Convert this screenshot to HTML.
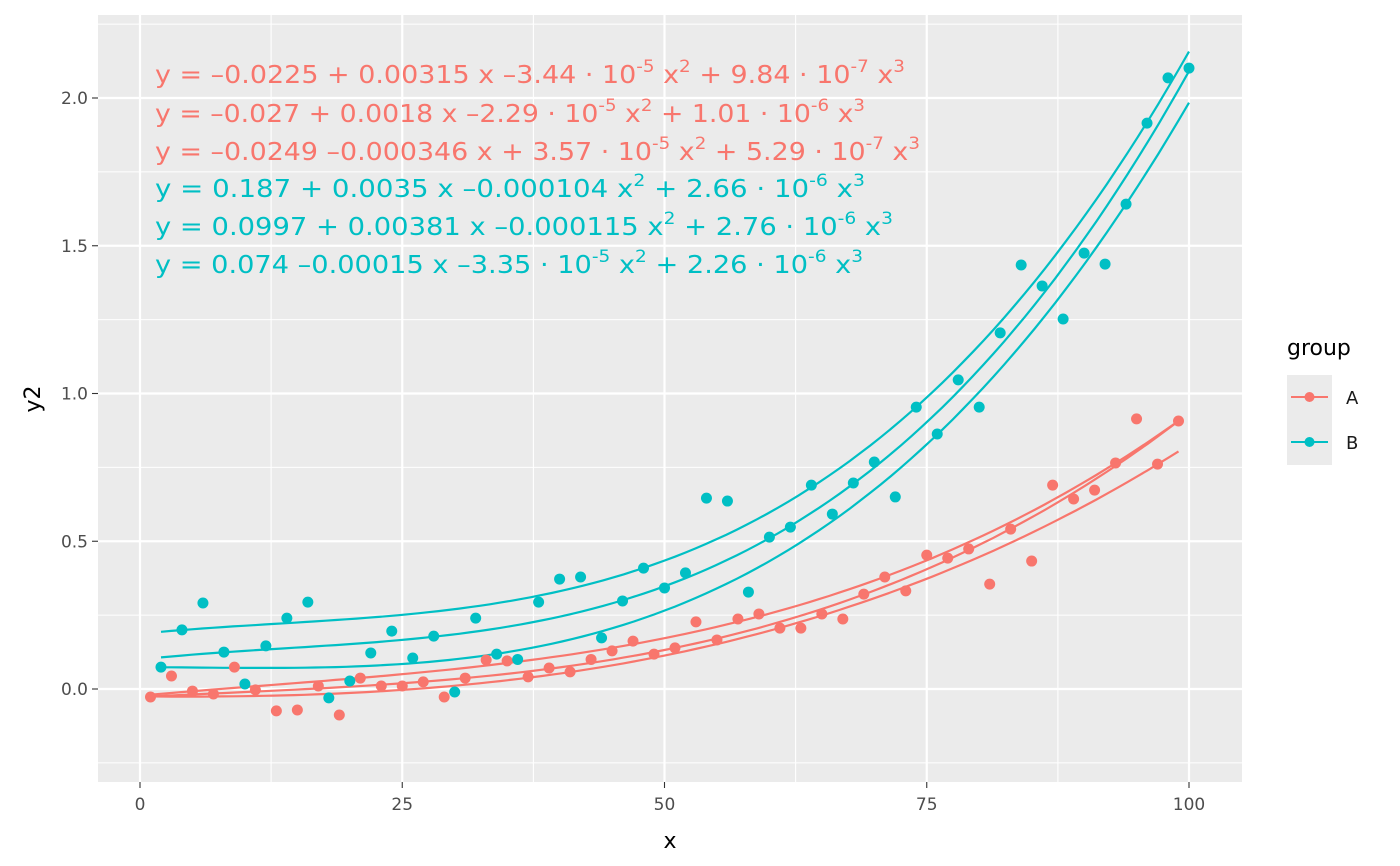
<!DOCTYPE html>
<html><head><meta charset="utf-8"><style>
body{margin:0;background:#fff;}
svg{display:block;font-family:"DejaVu Sans","Liberation Sans",sans-serif;}
</style></head><body>
<svg id="chart" width="1400" height="866">
<rect x="98" y="15" width="1144" height="767" fill="#ebebeb"/>
<g id="grid"></g><g id="curves"></g><g id="points"></g><g id="eqs"></g><g id="axes"></g>
<text x="670" y="848" font-size="22" text-anchor="middle" fill="#000">x</text>
<text transform="translate(40,399) rotate(-90)" font-size="22" text-anchor="middle" fill="#000">y2</text>
<g>
<text x="1287" y="355" font-size="22" fill="#000">group</text>
<g>
<rect x="1287" y="375" width="45" height="45" fill="#ebebeb"/>
<line x1="1291" y1="397" x2="1328" y2="397" stroke="#F8766D" stroke-width="2"/>
<circle cx="1309.5" cy="397" r="5" fill="#F8766D"/>
<text x="1346" y="404" font-size="18" fill="#1a1a1a">A</text></g>
<g>
<rect x="1287" y="420" width="45" height="45" fill="#ebebeb"/>
<line x1="1291" y1="442" x2="1328" y2="442" stroke="#00BFC4" stroke-width="2"/>
<circle cx="1309.5" cy="442" r="5" fill="#00BFC4"/>
<text x="1346" y="449" font-size="18" fill="#1a1a1a">B</text></g>
</g>
</svg>
<script>
const xA=[1,3,5,7,9,11,13,15,17,19,21,23,25,27,29,31,33,35,37,39,41,43,45,47,49,51,53,55,57,59,61,63,65,67,69,71,73,75,77,79,81,83,85,87,89,91,93,95,97,99];
const yA=[-0.027,0.044,-0.007,-0.017,0.074,-0.003,-0.074,-0.071,0.01,-0.088,0.037,0.01,0.01,0.024,-0.027,0.037,0.098,0.095,0.041,0.071,0.058,0.10,0.129,0.162,0.118,0.139,0.227,0.166,0.237,0.254,0.206,0.206,0.254,0.237,0.321,0.379,0.332,0.453,0.443,0.474,0.355,0.541,0.433,0.69,0.643,0.673,0.765,0.914,0.761,0.907];
const xB=[2,4,6,8,10,12,14,16,18,20,22,24,26,28,30,32,34,36,38,40,42,44,46,48,50,52,54,56,58,60,62,64,66,68,70,72,74,76,78,80,82,84,86,88,90,92,94,96,98,100];
const yB=[0.074,0.2,0.291,0.125,0.017,0.146,0.24,0.294,-0.03,0.027,0.122,0.196,0.105,0.179,-0.01,0.24,0.118,0.10,0.294,0.372,0.379,0.173,0.298,0.409,0.342,0.393,0.646,0.636,0.328,0.514,0.548,0.69,0.592,0.697,0.768,0.65,0.954,0.863,1.046,0.954,1.205,1.435,1.364,1.252,1.475,1.438,1.641,1.915,2.068,2.101];
const coefA=[[-0.0225,0.00315,-3.44e-5,9.84e-7],[-0.027,0.0018,-2.29e-5,1.01e-6],[-0.0249,-0.000346,3.57e-5,5.29e-7]];
const coefB=[[0.187,0.0035,-0.000104,2.66e-6],[0.0997,0.00381,-0.000115,2.76e-6],[0.074,-0.00015,-3.35e-5,2.26e-6]];
const xTicks=[0,25,50,75,100];
const yTicks=[0,0.5,1,1.5,2];
const yTickLabels=["0.0","0.5","1.0","1.5","2.0"];
const xTickLabels=["0","25","50","75","100"];
const eqLabels=[
 ["y = –0.0225 + 0.00315 x –3.44 · 10","-5"," x","2"," + 9.84 · 10","-7"," x","3"],
 ["y = –0.027 + 0.0018 x –2.29 · 10","-5"," x","2"," + 1.01 · 10","-6"," x","3"],
 ["y = –0.0249 –0.000346 x + 3.57 · 10","-5"," x","2"," + 5.29 · 10","-7"," x","3"],
 ["y = 0.187 + 0.0035 x –0.000104 x","2"," + 2.66 · 10","-6"," x","3"],
 ["y = 0.0997 + 0.00381 x –0.000115 x","2"," + 2.76 · 10","-6"," x","3"],
 ["y = 0.074 –0.00015 x –3.35 · 10","-5"," x","2"," + 2.26 · 10","-6"," x","3"]];
const eqWidths=[750,710,765,710,738,708];
const NS="http://www.w3.org/2000/svg";
const px=v=>140+(v-0)*(1189-140)/100;
const py=v=>689-v*295.5;
function mk(tag,attrs,parent){const e=document.createElementNS(NS,tag);for(const k in attrs)e.setAttribute(k,attrs[k]);parent.appendChild(e);return e;}
const grid=document.getElementById('grid');
const axes=document.getElementById('axes');
// minor grid
for(let i=0;i<xTicks.length-1;i++){const m=(xTicks[i]+xTicks[i+1])/2;
 const l=mk('line',{x1:px(m),x2:px(m),y1:15,y2:782,stroke:'#fff','stroke-width':1.1},grid);
 
 }
for(let i=0;i<=yTicks.length;i++){const m=i<yTicks.length?yTicks[i]-0.25:yTicks[yTicks.length-1]+0.25;
 const l=mk('line',{x1:98,x2:1242,y1:py(m),y2:py(m),stroke:'#fff','stroke-width':1.1},grid);
 
 }
xTicks.forEach((t,i)=>{
 const l=mk('line',{x1:px(t),x2:px(t),y1:15,y2:782,stroke:'#fff','stroke-width':2.2},grid);
 
 
 mk('line',{x1:px(t),x2:px(t),y1:782,y2:788,stroke:'#333','stroke-width':1.1},axes);
 const tx=mk('text',{x:px(t),y:810,'font-size':17,'text-anchor':'middle',fill:'#4d4d4d'},axes);
 tx.textContent=xTickLabels[i];
 
 });
yTicks.forEach((t,i)=>{
 const l=mk('line',{x1:98,x2:1242,y1:py(t),y2:py(t),stroke:'#fff','stroke-width':2.2},grid);
 
 
 mk('line',{x1:92,x2:98,y1:py(t),y2:py(t),stroke:'#333','stroke-width':1.1},axes);
 const tx=mk('text',{x:88,y:py(t)+6,'font-size':17,'text-anchor':'end',fill:'#4d4d4d'},axes);
 tx.textContent=yTickLabels[i];
 
 });
const curves=document.getElementById('curves');
function drawCurve(c,x0,x1,col,name){let d='';for(let i=0;i<=100;i++){const x=x0+(x1-x0)*i/100;const y=c[0]+c[1]*x+c[2]*x*x+c[3]*x*x*x;d+=(i?'L':'M')+px(x).toFixed(1)+','+py(y).toFixed(1);}
 const p=mk('path',{d:d,fill:'none',stroke:col,'stroke-width':2.2},curves);
 
 }
coefA.forEach((c,i)=>drawCurve(c,xA[0],xA[xA.length-1],'#F8766D','fit-curve-a'));
coefB.forEach((c,i)=>drawCurve(c,xB[0],xB[xB.length-1],'#00BFC4','fit-curve-b'));
const pts=document.getElementById('points');
xA.forEach((x,i)=>{const c=mk('circle',{cx:px(x),cy:py(yA[i]),r:5.5,fill:'#F8766D'},pts);
 
 });
xB.forEach((x,i)=>{const c=mk('circle',{cx:px(x),cy:py(yB[i]),r:5.5,fill:'#00BFC4'},pts);
 
 });
const eqs=document.getElementById('eqs');
const baselines=[83,122,160,197,235,273];
eqLabels.forEach((parts,i)=>{
 const col=i<3?'#F8766D':'#00BFC4';
 const t=mk('text',{x:155,y:baselines[i],'font-size':25,fill:col,textLength:eqWidths[i],lengthAdjust:'spacingAndGlyphs'},eqs);
 
 
 let sup=false;
 parts.forEach((p,j)=>{const isSup=/^-?\d$/.test(p)&&j>0;
  const s=mk('tspan',{},t);
  if(isSup){s.setAttribute('dy','-11');s.setAttribute('font-size','17');sup=true;}
  else if(sup){s.setAttribute('dy','11');sup=false;}
  s.textContent=p;});
});
</script>
</body></html>
